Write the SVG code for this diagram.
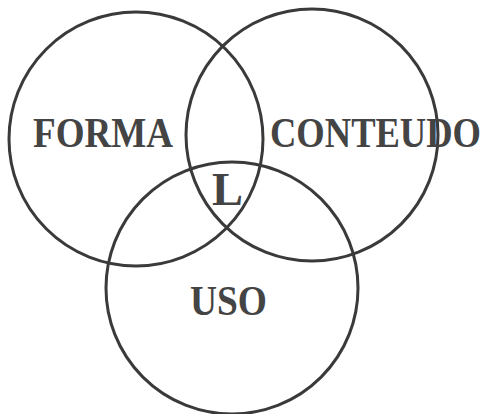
<svg xmlns="http://www.w3.org/2000/svg" width="489" height="414" viewBox="0 0 489 414">
<style>
.c{fill:none;stroke:#3a3a3a;stroke-width:3}
.t{font-family:"Liberation Serif","Times New Roman",serif;font-weight:bold;font-size:43px;fill:#444}
</style>
<rect width="489" height="414" fill="#fff"/>
<g id="forma"><circle class="c" cx="136" cy="139" r="127"/><text class="t" x="33" y="147" textLength="140" lengthAdjust="spacingAndGlyphs">FORMA</text></g>
<g id="conteudo"><circle class="c" cx="312" cy="135" r="126"/><text class="t" x="270" y="147" textLength="211" lengthAdjust="spacingAndGlyphs">CONTEUDO</text></g>
<g id="uso"><circle class="c" cx="232" cy="288" r="126"/><text class="t" x="190" y="315" textLength="77" lengthAdjust="spacingAndGlyphs">USO</text></g>
<g id="l"><text class="t" x="212" y="205" textLength="31" lengthAdjust="spacingAndGlyphs" style="font-size:47px">L</text></g>
</svg>
